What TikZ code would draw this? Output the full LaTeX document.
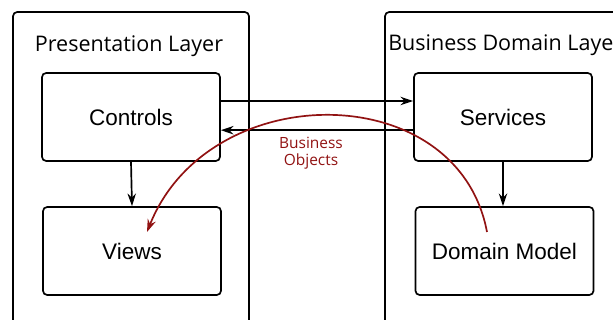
\documentclass[tikz,border=0pt]{standalone}
\usepackage{fontspec}
\setmainfont{Liberation Sans}
\newfontfamily\titlefont{Open Sans}
\usetikzlibrary{arrows.meta}
\definecolor{objred}{RGB}{145,18,18}
\begin{document}
\begin{tikzpicture}[x=0.025cm,y=-0.025cm,
  layer/.style={draw,line width=1.2pt,rounded corners=3pt},
  box/.style={draw,line width=1.2pt,rounded corners=3pt,minimum width=4.45cm,minimum height=2.2cm,font=\fontsize{16}{19}\selectfont},
  title/.style={font=\titlefont\fontsize{15.3}{18}\selectfont},
  link/.style={line width=1.2pt,-{Stealth[length=9pt,width=6pt]}},
  flow/.style={objred,line width=1.2pt,-{Stealth[length=9pt,width=6pt]}}]
\useasboundingbox (0,0) rectangle (613,320);
\clip (0,0) rectangle (613,320);
\draw[layer] (13,12) rectangle (249,360);
\draw[layer] (385,12) rectangle (660,360);
\node[title,anchor=base] (pres) at (129,52) {Presentation Layer};
\node[title,anchor=base west,inner sep=0pt] (dom) at (388,51) {Business Domain Layer};
\node[box] (ctrl) at (131,117) {Controls};
\node[box] (views) at (132,251) {Views};
\node[box] (svc) at (503,117) {Services};
\node[box] (dm) at (504.5,251) {Domain Model};
\draw[link] ([yshift=0.4cm]ctrl.east) -- ([yshift=0.4cm]svc.west);
\draw[link] ([yshift=-0.33cm]svc.west) -- ([yshift=-0.33cm]ctrl.east);
\draw[link] (ctrl.south) -- (views.north);
\draw[link] (svc.south) -- (svc.south |- dm.north);
\coordinate (bo-from) at (487,232);
\coordinate (bo-to) at (147,232);
\draw[flow] (bo-from) .. controls (458,77) and (209,77) .. (bo-to);
\node[title,objred,align=center,font=\titlefont\fontsize{11}{11.8}\selectfont] (bo) at (311,153) {Business\\Objects};
\end{tikzpicture}
\end{document}
